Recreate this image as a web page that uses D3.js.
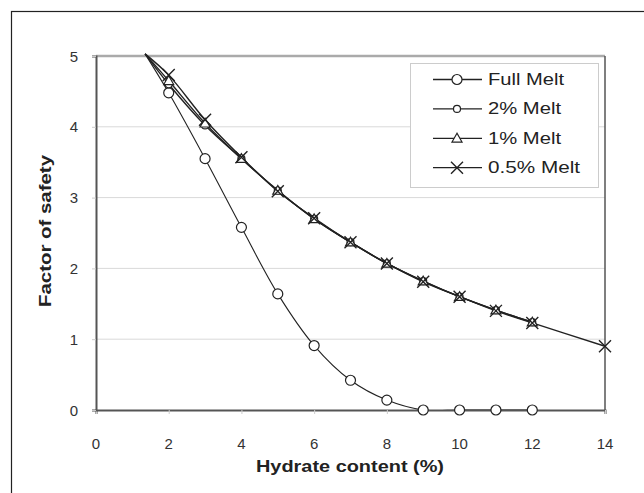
<!DOCTYPE html>
<html><head><meta charset="utf-8">
<script src="https://cdn.jsdelivr.net/npm/d3@7"></script>
<style>body{margin:0;background:#fff;}svg{display:block;font-family:"Liberation Sans",Arial,sans-serif;}</style>
</head><body>
<script>
const xFull = [1.35, 2, 3, 4, 5, 6, 7, 8, 9, 10, 11, 12];
const yFull = [5.03, 4.48, 3.55, 2.58, 1.64, 0.91, 0.42, 0.14, 0, 0, 0, 0];
const x2 = [1.35, 2, 3, 4, 5, 6, 7, 8, 9, 10, 11, 12];
const y2 = [5.03, 4.6, 4.02, 3.55, 3.1, 2.7, 2.37, 2.07, 1.82, 1.6, 1.41, 1.24];
const x1 = [1.35, 2, 3, 4, 5, 6, 7, 8, 9, 10, 11, 12];
const y1 = [5.03, 4.65, 4.05, 3.55, 3.1, 2.7, 2.37, 2.07, 1.82, 1.6, 1.41, 1.24];
const x05 = [1.35, 2, 3, 4, 5, 6, 7, 8, 9, 10, 11, 12, 14];
const y05 = [5.03, 4.73, 4.1, 3.57, 3.09, 2.71, 2.37, 2.07, 1.81, 1.6, 1.4, 1.23, 0.9];
const seriesNames = ["Full Melt", "2% Melt", "1% Melt", "0.5% Melt"];
const xTicks = [0, 2, 4, 6, 8, 10, 12, 14];
const yTicks = [0, 1, 2, 3, 4, 5];
const xTitle = "Hydrate content (%)";
const yTitle = "Factor of safety";

const W = 644, H = 493;
const svg = d3.select("body").append("svg").attr("width", W).attr("height", H);
svg.append("rect").attr("x", 11.5).attr("y", 11.5).attr("width", 700).attr("height", 600)
  .attr("fill", "none").attr("stroke", "#222").attr("stroke-width", 1.2);

const L = 96, R = 605, T = 56, B = 410;
const x = d3.scaleLinear().domain([0, 14]).range([L, R]);
const y = d3.scaleLinear().domain([0, 5]).range([B, T]);

// gridlines
svg.append("g").selectAll("line").data(yTicks.filter(d => d > 0 && d < 5)).join("line")
  .attr("x1", L).attr("x2", R).attr("y1", d => y(d)).attr("y2", d => y(d))
  .attr("stroke", "#d9d9d9").attr("stroke-width", 1);

// frame
svg.append("line").attr("x1", L).attr("x2", R).attr("y1", T).attr("y2", T).attr("stroke", "#aaa").attr("stroke-width", 2.5);
svg.append("line").attr("x1", R).attr("x2", R).attr("y1", T).attr("y2", B).attr("stroke", "#555").attr("stroke-width", 1.5);

// axes
const gx = svg.append("g").attr("transform", `translate(0,${B})`)
  .call(d3.axisBottom(x).tickValues(xTicks).tickSize(4).tickFormat(""));
const gy = svg.append("g").attr("transform", `translate(${L},0)`)
  .call(d3.axisLeft(y).tickValues(yTicks).tickSize(4).tickFormat(""));
[gx, gy].forEach(g => {
  g.select(".domain").attr("stroke", "#555").attr("stroke-width", 2);
  g.selectAll(".tick line").attr("stroke", "#ccc");
});
svg.append("g").selectAll("text").data(xTicks).join("text")
  .attr("x", d => x(d)).attr("y", 449).attr("text-anchor", "middle")
  .attr("font-size", 15).attr("fill", "#333").text(d => d);
svg.append("g").selectAll("text").data(yTicks).join("text")
  .attr("x", 78).attr("y", d => y(d) + 5.5).attr("text-anchor", "end")
  .attr("font-size", 15).attr("fill", "#333").text(d => d);

svg.append("text").attr("x", 350).attr("y", 472).attr("text-anchor", "middle")
  .attr("font-size", 17).attr("font-weight", "bold").attr("fill", "#222")
  .attr("textLength", 188).attr("lengthAdjust", "spacingAndGlyphs").text(xTitle);
svg.append("text").attr("transform", "translate(51,231) rotate(-90)").attr("text-anchor", "middle")
  .attr("font-size", 17).attr("font-weight", "bold").attr("fill", "#222")
  .attr("textLength", 152).attr("lengthAdjust", "spacingAndGlyphs").text(yTitle);

svg.append("clipPath").attr("id", "c").append("rect")
  .attr("x", L).attr("y", T - 6).attr("width", R - L + 10).attr("height", B - T + 6);

const series = [
  {xs: xFull, ys: yFull, marker: "circle", r: 5, w: 1.1},
  {xs: x2, ys: y2, marker: "circle", r: 3.5, w: 1.4},
  {xs: x1, ys: y1, marker: "triangle", r: 5, w: 1.4},
  {xs: x05, ys: y05, marker: "x", r: 6, w: 1.4}
];
const line = d3.line().x(d => x(d[0])).y(d => y(d[1])).curve(d3.curveCatmullRom.alpha(0.5));

function drawMarker(g, type, cx, cy, r) {
  if (type === "circle") {
    g.append("circle").attr("cx", cx).attr("cy", cy).attr("r", r).attr("fill", "#fff").attr("stroke", "#222").attr("stroke-width", 1.2);
  } else if (type === "triangle") {
    const p = [[cx, cy - r], [cx - r, cy + r * 0.75], [cx + r, cy + r * 0.75]];
    g.append("path").attr("d", "M" + p.join("L") + "Z").attr("fill", "#fff").attr("stroke", "#222").attr("stroke-width", 1.2);
  } else {
    g.append("path").attr("d", `M${cx - r},${cy - r}L${cx + r},${cy + r}M${cx - r},${cy + r}L${cx + r},${cy - r}`)
      .attr("stroke", "#222").attr("stroke-width", 1.4);
  }
}

const plot = svg.append("g").attr("clip-path", "url(#c)");
series.forEach(s => {
  const pts = s.xs.map((v, i) => [v, s.ys[i]]);
  plot.append("path").attr("d", line(pts)).attr("fill", "none").attr("stroke", "#222").attr("stroke-width", s.w);
});
const mk = svg.append("g");
series.forEach(s => {
  s.xs.forEach((v, i) => { if (v >= 2) drawMarker(mk, s.marker, x(v), y(s.ys[i]), s.r); });
});

// legend
const legendLen = [76, 73, 73, 92];
const lg = svg.append("g");
lg.append("rect").attr("x", 410.5).attr("y", 63.5).attr("width", 188).attr("height", 124)
  .attr("fill", "#fff").attr("stroke", "#ccc");
seriesNames.forEach((n, i) => {
  const yy = 79.5 + i * 29.4;
  lg.append("line").attr("x1", 433).attr("x2", 482).attr("y1", yy).attr("y2", yy).attr("stroke", "#222").attr("stroke-width", 1.3);
  drawMarker(lg, series[i].marker, 457, yy, series[i].r);
  lg.append("text").attr("x", 488).attr("y", yy + 5.5).attr("font-size", 16).attr("fill", "#222")
    .attr("textLength", legendLen[i]).attr("lengthAdjust", "spacingAndGlyphs").text(n);
});
</script>
</body></html>
